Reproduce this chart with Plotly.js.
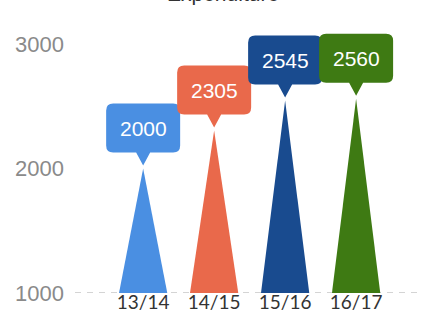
<!DOCTYPE html>
<html>
<head>
<meta charset="utf-8">
<script src="https://cdn.plot.ly/plotly-3.0.1.min.js"></script>
<style>html,body{margin:0;padding:0;background:#fff;}#chart{width:422px;height:315px;}</style>
</head>
<body>
<div id="chart"></div>
<script>
// ---- data ----
const categories = ["13/14", "14/15", "15/16", "16/17"];
const values = [2000, 2305, 2545, 2560];
const colors = ["#4a8fe2", "#e9694b", "#194b8f", "#3e7a13"];
const yTicks = [1000, 2000, 3000];
const baseValue = 1000;
const chartTitle = "Expenditure";

// ---- style ----
const halfWidth = 0.34;          // half base width of spike, in category units
const balloonPath =
  "M -30,16 L -7,16 L 0,3 L 7,16 L 30,16 Q 37,16 37,23 L 37,58 Q 37,65 30,65 " +
  "L -30,65 Q -37,65 -37,58 L -37,23 Q -37,16 -30,16 Z";

const idx = categories.map((c, i) => i);

const traces = values.map((v, i) => ({
  type: "scatter",
  mode: "lines",
  x: [i - halfWidth, i, i + halfWidth],
  y: [baseValue, v, baseValue],
  fill: "toself",
  fillcolor: colors[i],
  line: {width: 0, color: colors[i]},
  hoverinfo: "skip",
  showlegend: false
}));

const shapes = [{
  type: "line", xref: "paper", yref: "y",
  x0: 0, x1: 1, y0: baseValue, y1: baseValue,
  line: {color: "#c6c6c6", width: 1.5, dash: "6px,6px"},
  layer: "below"
}].concat(values.map((v, i) => ({
  type: "path",
  xref: "x", yref: "y",
  xsizemode: "pixel", ysizemode: "pixel",
  xanchor: i, yanchor: v,
  path: balloonPath,
  fillcolor: colors[i],
  line: {width: 0},
  layer: "above"
})));

const annotations = values.map((v, i) => ({
  x: i, y: v, xref: "x", yref: "y",
  text: String(v),
  showarrow: false,
  yshift: 40,
  font: {family: "Liberation Sans, Arial, sans-serif", size: 21, color: "#ffffff"}
})).concat([{
  // chart title, mostly above the top edge as in the reference
  x: 0.43, y: 1, xref: "paper", yref: "paper",
  xanchor: "center", yanchor: "bottom",
  yshift: 23,
  text: chartTitle,
  showarrow: false,
  font: {family: "Liberation Sans, Arial, sans-serif", size: 21, color: "#333333"}
}]);

const layout = {
  width: 422, height: 315,
  margin: {l: 75, r: 2, t: 30, b: 22},
  paper_bgcolor: "#ffffff",
  plot_bgcolor: "#ffffff",
  xaxis: {
    range: [-0.96, 3.9],
    tickmode: "array",
    tickvals: idx,
    ticktext: categories,
    showgrid: false, zeroline: false, showline: false,
    ticks: "",
    ticklabelstandoff: -4,
    tickfont: {family: "Lato, sans-serif", size: 19, color: "#333333"},
    fixedrange: true
  },
  yaxis: {
    range: [1000, 3112],
    tickmode: "array",
    tickvals: yTicks,
    showgrid: false, zeroline: false, showline: false,
    ticks: "",
    ticklabelstandoff: 10,
    tickfont: {family: "Liberation Sans, Arial, sans-serif", size: 22, color: "#8a8a8a"},
    fixedrange: true
  },
  shapes: shapes,
  annotations: annotations,
  showlegend: false
};

Plotly.newPlot("chart", traces, layout, {displayModeBar: false, staticPlot: true});
</script>
</body>
</html>
